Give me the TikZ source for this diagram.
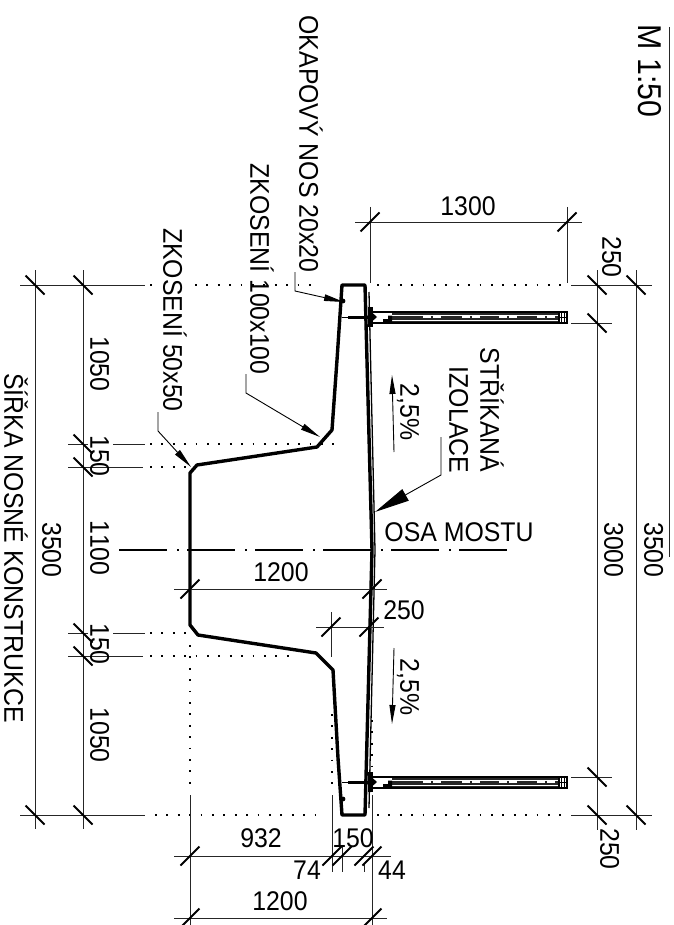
\documentclass[tikz,border=0pt]{standalone}
\usepackage{fontspec}
\setmainfont[Kerning=Off, FakeStretch=0.92]{Liberation Sans}
\usetikzlibrary{arrows.meta}
\tikzset{
	profile/.style={line width=3.4pt, line join=round},
	dimline/.style={line width=0.9pt, color=black!85},
	tickline/.style={line width=1.8pt},
	dotline/.style={line width=1.8pt, dash pattern=on 1.8pt off 9.6pt},
	leader/.style={line width=0.9pt},
	lbl/.style={font=\fontsize{27}{30}\selectfont, inner sep=0pt, text height=19.3pt, text depth=0pt},
	vlbl/.style={lbl, rotate=-90}
}
\def\tickv(#1,#2){\draw[tickline, shift={(#1,#2)}] (-9.5,-9.5) -- (9.5,9.5);}
\def\tickh(#1,#2){\draw[tickline, shift={(#1,#2)}] (-9.5,9.5) -- (9.5,-9.5);}
\def\railing(#1){\begin{scope}[shift={(0,#1)}]
	\draw[line width=2pt] (372, 312) -- (567, 312);
	\draw[line width=1.5pt] (372, 323) -- (567, 323);
	\fill[black!85] (392, 313) rectangle (559, 322);
	\draw[line width=0.5pt, color=white] (392, 315) -- (559, 315);
	\draw[line width=0.5pt, color=white] (392, 320) -- (559, 320);
	\foreach \xd in {423, 462, 499, 537} {
		\draw[line width=1.4pt, color=white] (\xd, 317) -- ++(8, 0) ++(2, 0) -- ++(8, 0);
	}
	\draw[line width=1.4pt] (559, 312) rectangle (567, 323);
	\draw[line width=0.8pt] (561.5, 312) -- (561.5, 323);
	\draw[line width=0.8pt] (564, 312) -- (564, 323);
	\draw[line width=0.8pt] (559, 317.5) -- (567, 317.5);
	\fill (383, 322) -- (392, 322) -- (392, 315.5) -- (388, 315.5) -- (388, 319) -- (383, 319) -- cycle;
	\draw[line width=0.9pt] (342, 317) -- (348, 317);
	\draw[line width=3pt] (348, 317) -- (372, 317);
	\fill (372, 312.5) -- (377, 317) -- (372, 321.5) -- cycle;
	\fill (367.5, 307) rectangle (372.5, 327);
\end{scope}}

\begin{document}
\begin{tikzpicture}[x=1pt, y=-1pt]
			%%%%% START %%%%%
			\useasboundingbox (0, 0) rectangle (673, 925);
			
			\draw[profile] (342, 285) -- (337, 360) -- (332, 430) -- (317, 447) -- (197, 465) -- (190, 473) -- (190, 625) -- (198, 635) -- (316, 653) -- (333, 670) -- (338, 758) -- (342, 815) -- (365, 815) -- (372, 550) -- (365, 285) -- cycle;
			\draw[line width=1.3pt] (369, 292) -- (375, 550) -- (369, 808);
			\fill (343, 301) circle (2.4);
			\fill (343, 799) circle (2.4);
			
			\railing(0)
			\railing(465)
			
			% axis
			\draw[line width=2.4pt, dash pattern=on 48pt off 10pt on 1.8pt off 8.2pt] (119, 550) -- (507, 550);
			
			% dotted lines
			\draw[dotline] (150, 285) -- (152, 285);
			\draw[dotline] (195, 285) -- (313, 285);
			\draw[dotline] (377, 285) -- (565, 285);
			\draw[dotline] (150, 444) -- (334, 444);
			\draw[dotline] (150, 467) -- (188, 467);
			\draw[dotline] (150, 633) -- (192, 633);
			\draw[dotline] (150, 656) -- (295, 656);
			\draw[dotline] (155, 815) -- (322, 815);
			\draw[dotline] (377, 815) -- (565, 815);
			\draw[dotline] (190, 645) -- (190, 793);
			\draw[dotline] (332, 714) -- (332, 790);
			\draw[dotline] (372, 720) -- (372, 770);
			
			% left dimensions
			\draw[dimline] (35, 270) -- (35, 829);
			\draw[dimline] (83, 270) -- (83, 829);
			\draw[dimline] (20, 285) -- (145, 285);
			\draw[dimline] (20, 815) -- (145, 815);
			\draw[dimline] (68, 444) -- (88, 444);
			\draw[dimline] (113, 444) -- (145, 444);
			\draw[dimline] (68, 467) -- (143, 467);
			\draw[dimline] (68, 633) -- (88, 633);
			\draw[dimline] (113, 633) -- (145, 633);
			\draw[dimline] (68, 656) -- (143, 656);
			\tickv(35, 285)
			\tickv(83, 285)
			\tickv(83, 444)
			\tickv(83, 467)
			\tickv(83, 633)
			\tickv(83, 656)
			\tickv(35, 815)
			\tickv(83, 815)
			
			% right dimensions
			\draw[dimline] (597, 270) -- (597, 830);
			\draw[dimline] (636, 270) -- (636, 830);
			\draw[dimline] (571, 285) -- (652, 285);
			\draw[dimline] (571, 323) -- (612, 323);
			\draw[dimline] (571, 777) -- (612, 777);
			\draw[dimline] (571, 815) -- (652, 815);
			\tickv(597, 285)
			\tickv(636, 285)
			\tickv(597, 323)
			\tickv(597, 777)
			\tickv(597, 815)
			\tickv(636, 815)
			\draw[dimline] (669, 27) -- (669, 557);
			
			% upper dimension
			\draw[dimline] (355, 222) -- (582, 222);
			\draw[dimline] (370, 207) -- (370, 283);
			\draw[dimline] (567, 207) -- (567, 283);
			\tickh(370, 222)
			\tickh(567, 222)
			
			% inner dimensions
			\draw[dimline] (174, 589) -- (387, 589);
			\tickh(190, 589)
			\tickh(372, 589)
			\draw[dimline] (316, 627) -- (384, 627);
			\draw[dimline] (331, 612) -- (331, 657);
			\tickh(331, 627)
			\tickh(369, 627)
			
			% lower dimensions
			\draw[dimline] (174, 856) -- (391, 856);
			\draw[dimline] (174, 918) -- (387, 918);
			\draw[dimline] (190, 795) -- (190, 925);
			\draw[dimline] (332, 795) -- (332, 872);
			\draw[dimline] (342, 847) -- (342, 872);
			\draw[dimline] (364, 863) -- (364, 872);
			\draw[dimline] (372, 795) -- (372, 925);
			\tickh(190, 856)
			\tickh(332, 856)
			\tickh(342, 856)
			\tickh(364, 856)
			\tickh(372, 856)
			\tickh(190, 918)
			\tickh(372, 918)
			
			% slopes and leaders
			\draw[leader, -{Triangle[length=19pt, width=6pt]}] (394, 452) -- (392, 375);
			\draw[leader, -{Triangle[length=19pt, width=6pt]}] (394, 648) -- (392, 724);
			\draw[leader, -{Triangle[length=35pt, width=13pt]}] (441, 437) -- (441, 475) -- (375, 512);
			\draw[leader, -{Triangle[length=20pt, width=6.5pt]}] (295, 272) -- (295, 291) -- (344, 302);
			\draw[leader, -{Triangle[length=20pt, width=6.5pt]}] (246, 374) -- (246, 393) -- (320, 437);
			\draw[leader, -{Triangle[length=20pt, width=6.5pt]}] (158, 412) -- (158, 431) -- (191, 467);
			
			% labels
			\node[vlbl, font=\fontsize{33}{36}\selectfont, text height=23.5pt] (lblScale) at (650, 71) {M 1:50};
			\node[vlbl] (lblDrip) at (309, 144) {OKAPOVÝ NOS 20x20};
			\node[vlbl] (lblChamfer) at (260, 269) {ZKOSENÍ 100x100};
			\node[vlbl] (lblChamferB) at (173, 320) {ZKOSENÍ 50x50};
			\node[vlbl] (lblWidth) at (14, 548) {ŠÍŘKA NOSNÉ KONSTRUKCE};
			\node[vlbl] (lblTotalL) at (52, 550) {3500};
			\node[vlbl] (lblSideA) at (100, 364) {1050};
			\node[vlbl] (lblEdgeA) at (100, 456) {150};
			\node[vlbl] (lblMid) at (100, 548) {1100};
			\node[vlbl] (lblEdgeB) at (100, 644) {150};
			\node[vlbl] (lblSideB) at (100, 735) {1050};
			\node[vlbl] (lblRailA) at (612, 257) {250};
			\node[vlbl] (lblRailSpan) at (614, 550) {3000};
			\node[vlbl] (lblTotalR) at (654, 550) {3500};
			\node[vlbl] (lblRailB) at (610, 849) {250};
			\node[vlbl] (lblSlopeA) at (410, 412) {2,5\%};
			\node[vlbl] (lblSlopeB) at (410, 687) {2,5\%};
			\node[vlbl] (lblSpray) at (490, 410) {STŘÍKANÁ};
			\node[vlbl] (lblInsul) at (459, 420) {IZOLACE};
			\node[lbl] (lblAxis) at (459, 532) {OSA MOSTU};
			\node[lbl] (lblRail) at (468, 206) {1300};
			\node[lbl] (lblDepth) at (281, 572) {1200};
			\node[lbl] (lblFlange) at (404, 610) {250};
			\node[lbl] (lblWeb) at (261, 838) {932};
			\node[lbl] (lblEdge) at (353, 838) {150};
			\node[lbl] (lblOff) at (307, 870) {74};
			\node[lbl] (lblOffB) at (392, 870) {44};
			\node[lbl] (lblHeight) at (280, 901) {1200};
			
			%%%%% END %%%%%
		\end{tikzpicture}
\end{document}
